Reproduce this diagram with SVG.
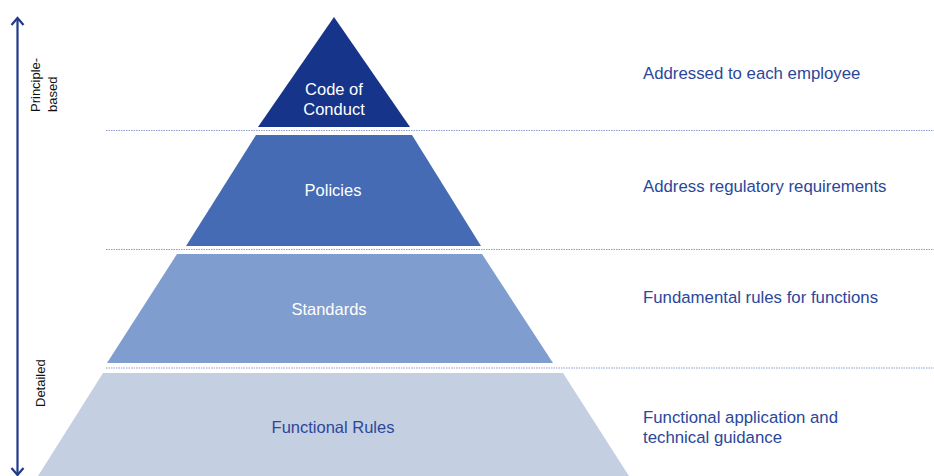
<svg xmlns="http://www.w3.org/2000/svg" width="934" height="476" viewBox="0 0 934 476">
<style>
text{font-family:"Liberation Sans",Arial,sans-serif}
.lbl{font-size:16.5px;text-anchor:middle}
.w{fill:#ffffff}
.desc{font-size:16.8px;fill:#2b479b}
.side{font-size:13px;fill:#111111}
.sep{stroke:#8e9fce;stroke-width:1.2;stroke-dasharray:1.5 1}
.ax{fill:none;stroke:#1e3a8c;stroke-width:2.2}
</style>
<rect width="934" height="476" fill="#ffffff"/>
<g id="connectors">
<line class="ax" x1="17.5" y1="18" x2="17.5" y2="475"/>
<polyline class="ax" points="11.5,25 17.5,18 23.5,25"/>
<polyline class="ax" points="11.5,468 17.5,475 23.5,468"/>
<line class="sep" x1="106" y1="130.5" x2="934" y2="130.5"/>
<line class="sep" x1="106" y1="249.5" x2="934" y2="249.5"/>
<line class="sep" x1="106" y1="368" x2="934" y2="368"/>
</g>
<g id="axis-labels">
<text class="side" transform="translate(40,112) rotate(-90)">Principle-</text>
<text class="side" transform="translate(57,112) rotate(-90)">based</text>
<text class="side" transform="translate(45,407) rotate(-90)">Detailed</text>
</g>
<g id="code-of-conduct">
<polygon points="334,17 410,127 258,127" fill="#15348a"/>
<text class="lbl w" x="334" y="95">Code of</text>
<text class="lbl w" x="334" y="115">Conduct</text>
</g>
<g id="policies">
<polygon points="256,135 412,135 481,246 186,246" fill="#446bb3"/>
<text class="lbl w" x="333" y="196">Policies</text>
</g>
<g id="standards">
<polygon points="177,254 482,254 553,363 107,363" fill="#7f9dce"/>
<text class="lbl w" x="329" y="315">Standards</text>
</g>
<g id="functional-rules">
<polygon points="103,373 563,373 629,476 38,476" fill="#c5cfe2"/>
<text class="lbl" x="333" y="433" fill="#2b479b">Functional Rules</text>
</g>
<g id="descriptions">
<text class="desc" x="643" y="79">Addressed to each employee</text>
<text class="desc" x="643" y="192">Address regulatory requirements</text>
<text class="desc" x="643" y="303">Fundamental rules for functions</text>
<text class="desc" x="643" y="423">Functional application and</text>
<text class="desc" x="643" y="443">technical guidance</text>
</g>
</svg>
